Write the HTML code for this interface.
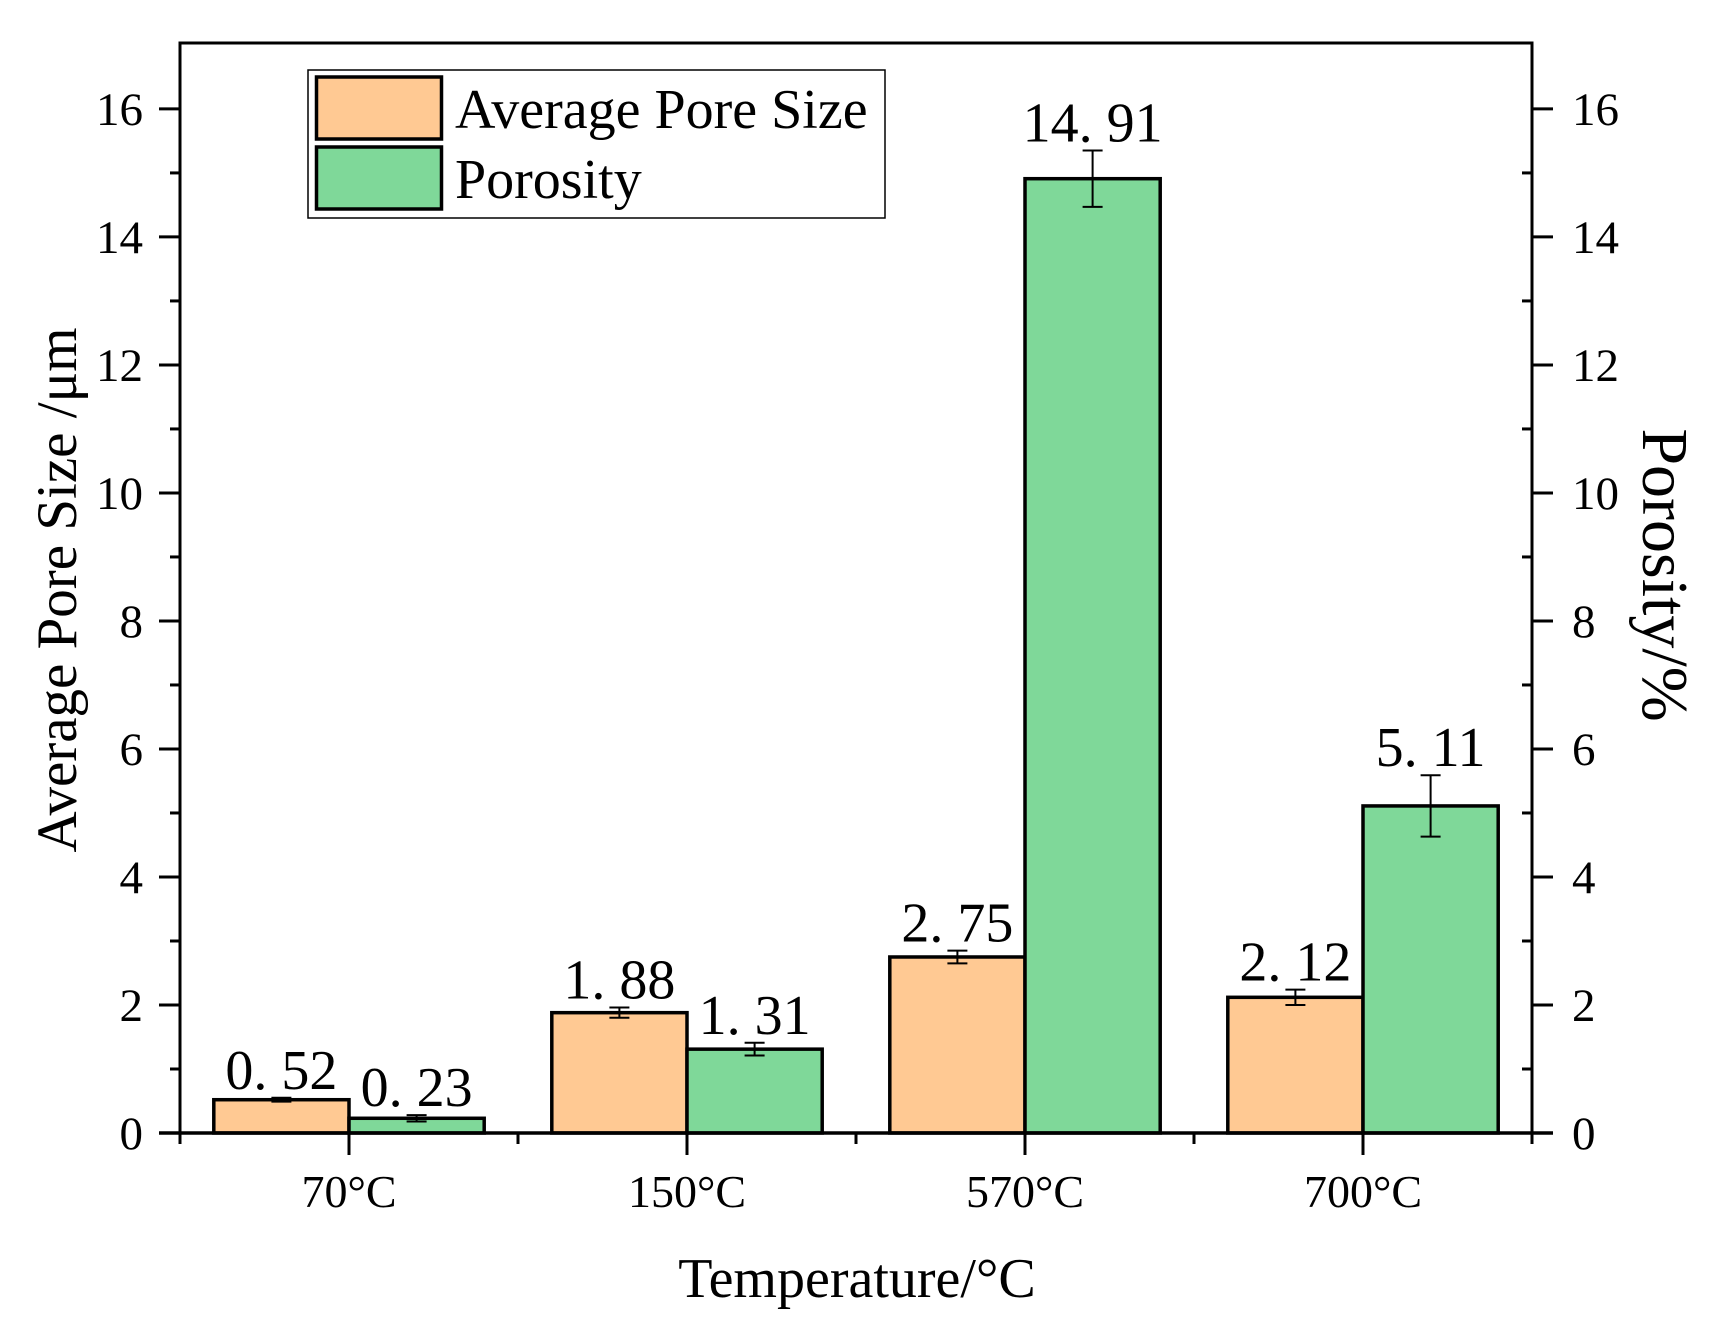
<!DOCTYPE html>
<html><head><meta charset="utf-8"><style>
html,body{margin:0;padding:0;background:#fff;}
svg{display:block;font-family:"Liberation Serif","Noto Serif CJK SC",serif;}
</style></head><body>
<svg id="chart" width="1724" height="1337" viewBox="0 0 1724 1337">
<g id="bars"></g>
<g id="axes"></g>
<g>
  <rect x="308" y="70" width="577" height="148" fill="#fff" stroke="#000" stroke-width="1.5"/>
  <rect x="316.5" y="77" width="125" height="62" fill="#ffc993" stroke="#000" stroke-width="3.5"/>
  <text x="455" y="128" font-size="56">Average Pore Size</text>
  <rect x="316.5" y="147" width="125" height="62" fill="#7fd899" stroke="#000" stroke-width="3.5"/>
  <text x="455" y="198" font-size="56">Porosity</text>
</g>
<text x="857" y="1297" font-size="56" text-anchor="middle">Temperature/°C</text>
<text transform="translate(76,590) rotate(-90)" font-size="57" text-anchor="middle">Average Pore Size /μm</text>
<text transform="translate(1643,575) rotate(90)" font-size="66" text-anchor="middle">Porosity/%</text>
</svg>
<script>
const categories = ["70°C","150°C","570°C","700°C"];
const poreSize = [0.52, 1.88, 2.75, 2.12];
const poreSizeErr = [0.03, 0.08, 0.1, 0.12];
const porosity = [0.23, 1.31, 14.91, 5.11];
const porosityErr = [0.05, 0.1, 0.44, 0.48];
const poreLabels = ["0. 52","1. 88","2. 75","2. 12"];
const porosityLabels = ["0. 23","1. 31","14. 91","5. 11"];
const yTicks = [0,2,4,6,8,10,12,14,16];

const NS="http://www.w3.org/2000/svg";
const X0=180, X1=1532, Y0=1133, YT=43, YMAX=17.03;
const groupW=(X1-X0)/categories.length;
const y=v=>Y0-(v/YMAX)*(Y0-YT);
const gx=i=>X0+groupW*(i+0.5);
function mk(tag,attrs,parent){const e=document.createElementNS(NS,tag);for(const k in attrs)e.setAttribute(k,attrs[k]);parent.appendChild(e);return e;}
const bars=document.getElementById('bars');
const axes=document.getElementById('axes');
const bw=groupW*0.4;
function drawBar(i,val,err,lbl,left,color,name){
  const x=left?gx(i)-bw:gx(i);
  const r=mk('rect',{x:x,y:y(val),width:bw,height:Y0-y(val),fill:color,stroke:'#000','stroke-width':3.5},bars);
  
  
  const cx=x+bw/2;
  const eg=mk('g',{stroke:'#000','stroke-width':2},bars);
  
  
  mk('line',{x1:cx,x2:cx,y1:y(val+err),y2:y(val-err)},eg);
  mk('line',{x1:cx-10,x2:cx+10,y1:y(val+err),y2:y(val+err)},eg);
  mk('line',{x1:cx-10,x2:cx+10,y1:y(val-err),y2:y(val-err)},eg);
  const t=mk('text',{x:cx,y:y(val+err)-9,'font-size':56,'text-anchor':'middle'},bars);
  t.textContent=lbl;
  
  
}
categories.forEach((c,i)=>{
  drawBar(i,poreSize[i],poreSizeErr[i],poreLabels[i],true,'#ffc993','pore-size');
  drawBar(i,porosity[i],porosityErr[i],porosityLabels[i],false,'#7fd899','porosity');
  const t=mk('text',{x:gx(i),y:1207,'font-size':46,'text-anchor':'middle'},axes);
  t.textContent=c;
  
  
  mk('line',{x1:gx(i),x2:gx(i),y1:Y0,y2:Y0+22,stroke:'#000','stroke-width':3},axes);
});
for(let i=0;i<=categories.length;i++){
  const xx=X0+groupW*i;
  mk('line',{x1:xx,x2:xx,y1:Y0,y2:Y0+11,stroke:'#000','stroke-width':3},axes);
}
const frame=mk('path',{d:`M${X0},${Y0}V${YT}H${X1}V${Y0}`,fill:'none',stroke:'#000','stroke-width':3},axes);


const xaxis=mk('line',{x1:X0-21,x2:X1+21,y1:Y0,y2:Y0,stroke:'#000','stroke-width':3.5},axes);


yTicks.forEach((v,i)=>{
  const yy=y(v);
  mk('line',{x1:X0-21,x2:X0,y1:yy,y2:yy,stroke:'#000','stroke-width':3},axes);
  mk('line',{x1:X1,x2:X1+21,y1:yy,y2:yy,stroke:'#000','stroke-width':3},axes);
  if(v<16){const ym=y(v+1);
    mk('line',{x1:X0-10,x2:X0,y1:ym,y2:ym,stroke:'#000','stroke-width':3},axes);
    mk('line',{x1:X1-10,x2:X1,y1:ym,y2:ym,stroke:'#000','stroke-width':3},axes);}
  const l=mk('text',{x:143,y:yy+16,'font-size':47,'text-anchor':'end'},axes);
  l.textContent=v;
  
  
  const r=mk('text',{x:1572,y:yy+16,'font-size':47,'text-anchor':'start'},axes);
  r.textContent=v;
  
  
});
</script>
</body></html>
